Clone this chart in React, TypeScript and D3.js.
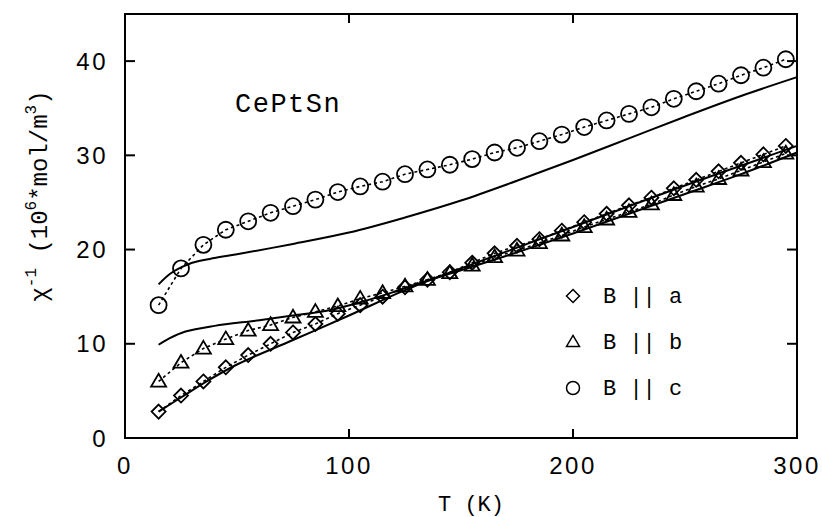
import React from 'react';
import * as d3 from 'd3';

// measured points (T in K), one every 10 K
const temps = [15, 25, 35, 45, 55, 65, 75, 85, 95, 105, 115, 125, 135, 145, 155, 165, 175, 185, 195, 205, 215, 225, 235, 245, 255, 265, 275, 285, 295];
const chiA = [2.8, 4.5, 6.0, 7.5, 8.8, 10.0, 11.2, 12.1, 13.2, 14.1, 15.0, 16.0, 16.8, 17.6, 18.6, 19.6, 20.4, 21.1, 22.0, 22.9, 23.8, 24.7, 25.5, 26.5, 27.4, 28.3, 29.2, 30.1, 31.0];
const chiB = [6.0, 8.0, 9.5, 10.5, 11.4, 12.0, 12.8, 13.4, 14.0, 14.8, 15.4, 16.1, 16.8, 17.5, 18.3, 19.2, 19.9, 20.7, 21.5, 22.4, 23.2, 24.0, 24.8, 25.8, 26.7, 27.5, 28.4, 29.3, 30.2];
const chiC = [14.1, 18.0, 20.5, 22.1, 23.0, 23.9, 24.6, 25.3, 26.1, 26.7, 27.2, 28.0, 28.5, 29.0, 29.6, 30.3, 30.8, 31.5, 32.2, 33.0, 33.7, 34.4, 35.1, 36.0, 36.8, 37.6, 38.5, 39.3, 40.2];

// calculated curves (solid lines)
const calcTA = [15, 25, 35, 50, 75, 100, 125, 150, 175, 200, 225, 250, 275, 300];
const calcA = [2.8, 4.3, 5.8, 7.8, 10.4, 13.0, 15.7, 18.0, 20.2, 22.4, 24.6, 26.8, 28.9, 31.0];
const calcTB = [15, 20, 27, 40, 60, 75, 90, 105, 120, 135, 150, 175, 200, 225, 250, 275, 300];
const calcB = [9.9, 10.6, 11.3, 11.9, 12.5, 13.0, 13.5, 14.4, 15.5, 16.7, 17.8, 19.7, 21.7, 23.8, 25.9, 28.0, 30.3];
const calcTC = [15, 20, 25, 30, 40, 50, 75, 100, 125, 150, 175, 200, 225, 250, 275, 300];
const calcC = [16.3, 17.4, 18.1, 18.6, 19.1, 19.5, 20.6, 21.8, 23.4, 25.2, 27.3, 29.5, 31.8, 34.1, 36.3, 38.3];

const xTicks = [0, 100, 200, 300];
const yTicks = [0, 10, 20, 30, 40];
const legendLabels = ['B || a', 'B || b', 'B || c'];

const W = 822;
const H = 517;
const margin = { top: 14, right: 25, bottom: 79, left: 125 };

const x = d3.scaleLinear().domain([0, 300]).range([margin.left, W - margin.right]);
const y = d3.scaleLinear().domain([0, 45]).range([H - margin.bottom, margin.top]);

const zip = (ts: number[], vs: number[]) => ts.map((t, i) => [t, vs[i]] as [number, number]);

const dotted = d3.line<[number, number]>().x(d => x(d[0])).y(d => y(d[1]));
const smooth = d3.line<[number, number]>().x(d => x(d[0])).y(d => y(d[1])).curve(d3.curveCatmullRom);

const MONO = '"Liberation Mono", "DejaVu Sans Mono", monospace';
const SANS = '"Liberation Sans", Arial, sans-serif';

const Marker = ({ kind, cx, cy, s, sw }: { kind: string; cx: number; cy: number; s: number; sw: number }) => {
  if (kind === 'c') return <circle cx={cx} cy={cy} r={s} fill="none" stroke="#000" strokeWidth={sw} />;
  if (kind === 'b') {
    const h = s * 1.7;
    const p = `M${cx},${cy - h * 0.6}L${cx + s},${cy + h * 0.4}L${cx - s},${cy + h * 0.4}Z`;
    return <path d={p} fill="none" stroke="#000" strokeWidth={sw} strokeLinejoin="miter" />;
  }
  const p = `M${cx},${cy - s}L${cx + s},${cy}L${cx},${cy + s}L${cx - s},${cy}Z`;
  return <path d={p} fill="none" stroke="#000" strokeWidth={sw} />;
};

const series = [
  { kind: 'a', vals: chiA, size: 7 },
  { kind: 'b', vals: chiB, size: 7.5 },
  { kind: 'c', vals: chiC, size: 8 },
];

const calcs = [zip(calcTA, calcA), zip(calcTB, calcB), zip(calcTC, calcC)];
const legendY = [296, 342, 388];

export default function App() {
  const x0 = margin.left;
  const x1 = W - margin.right;
  const y0 = H - margin.bottom;
  const y1 = margin.top;
  return (
    <svg width={W} height={H} style={{ position: 'absolute', left: 0, top: 0, background: '#fff' }}>
      <rect x={0} y={0} width={W} height={H} fill="#fff" />

      {/* calculated curves */}
      {calcs.map((c, i) => (
        <path key={'calc' + i} d={smooth(c) || ''} fill="none" stroke="#000" strokeWidth={2} />
      ))}

      {/* measured data with dotted connectors */}
      {series.map(s => (
        <g key={s.kind}>
          <path d={dotted(zip(temps, s.vals)) || ''} fill="none" stroke="#000" strokeWidth={1.6} strokeDasharray="3,3" />
          {temps.map((t, i) => (
            <Marker key={i} kind={s.kind} cx={x(t)} cy={y(s.vals[i])} s={s.size} sw={1.8} />
          ))}
        </g>
      ))}

      {/* frame */}
      <rect x={x0} y={y1} width={x1 - x0} height={y0 - y1} fill="none" stroke="#000" strokeWidth={2} />

      {/* ticks */}
      {xTicks.slice(1, -1).map(t => (
        <g key={'xt' + t}>
          <line x1={x(t)} x2={x(t)} y1={y0} y2={y0 - 9} stroke="#000" strokeWidth={2} />
          <line x1={x(t)} x2={x(t)} y1={y1} y2={y1 + 9} stroke="#000" strokeWidth={2} />
        </g>
      ))}
      {yTicks.slice(1).map(t => (
        <g key={'yt' + t}>
          <line x1={x0} x2={x0 + 10} y1={y(t)} y2={y(t)} stroke="#000" strokeWidth={2} />
          <line x1={x1} x2={x1 - 10} y1={y(t)} y2={y(t)} stroke="#000" strokeWidth={2} />
        </g>
      ))}

      {/* tick labels */}
      {xTicks.map(t => (
        <text key={'xl' + t} x={x(t)} y={y0 + 36} textAnchor="middle" fontFamily={SANS} fontSize={24} letterSpacing={2.5}>
          {t}
        </text>
      ))}
      {yTicks.map(t => (
        <text key={'yl' + t} x={x0 - 17} y={y(t) + 8.5} textAnchor="end" fontFamily={SANS} fontSize={24} letterSpacing={2.5}>
          {t}
        </text>
      ))}

      {/* axis titles */}
      <text x={471} y={511} textAnchor="middle" fontFamily={MONO} fontSize={22}>T (K)</text>
      <text transform="translate(47,196) rotate(-90)" textAnchor="middle" fontFamily={MONO} fontSize={24}>
        <tspan>χ</tspan>
        <tspan dy={-11} fontSize={16}>-1</tspan>
        <tspan dy={11}> (10</tspan>
        <tspan dy={-11} fontSize={16}>6</tspan>
        <tspan dy={11}>*mol/m</tspan>
        <tspan dy={-11} fontSize={16}>3</tspan>
        <tspan dy={11}>)</tspan>
      </text>

      {/* compound label */}
      <text x={235} y={112} fontFamily={MONO} fontSize={27} letterSpacing={1.5}>CePtSn</text>

      {/* legend */}
      {legendLabels.map((l, i) => (
        <g key={l}>
          <Marker kind={series[i].kind} cx={573} cy={legendY[i]} s={6.5} sw={1.5} />
          <text x={603} y={legendY[i] + 7} fontFamily={MONO} fontSize={22}>{l}</text>
        </g>
      ))}
    </svg>
  );
}
